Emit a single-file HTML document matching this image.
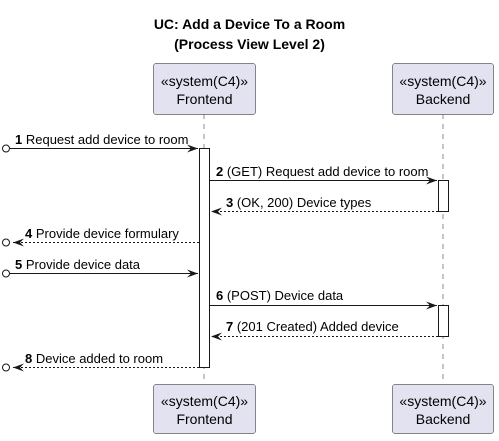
<!DOCTYPE html>
<html><head><meta charset="utf-8"><style>
html,body{margin:0;padding:0;background:#fff;}
svg{display:block;}
text{font-family:"Liberation Sans",sans-serif;}
</style></head><body>
<svg width="499" height="441" viewBox="0 0 499 441" xmlns="http://www.w3.org/2000/svg">
<defs>
<marker id="ah" markerWidth="12" markerHeight="10" refX="11" refY="4" orient="auto" markerUnits="userSpaceOnUse">
<polygon points="0,0 11,4 0,8 4,4" fill="#181818"/>
</marker>
</defs>
<text x="249.5" y="29" text-anchor="middle" font-size="14" font-weight="bold">UC: Add a Device To a Room</text>
<text x="249.5" y="49" text-anchor="middle" font-size="14" font-weight="bold">(Process View Level 2)</text>
<line x1="204" y1="114" x2="204" y2="384" stroke="#181818" stroke-width="0.5" stroke-dasharray="5,5"/>
<line x1="443" y1="114" x2="443" y2="384" stroke="#181818" stroke-width="0.5" stroke-dasharray="5,5"/>
<g fill="#E2E2F0" stroke="#181818" stroke-width="0.5">
<rect x="153.5" y="63.5" width="102" height="51" rx="2.5"/>
<rect x="392.5" y="63.5" width="101" height="51" rx="2.5"/>
<rect x="153.5" y="384.5" width="102" height="49" rx="2.5"/>
<rect x="392.5" y="384.5" width="101" height="49" rx="2.5"/>
</g>
<g font-size="14" fill="#000" text-anchor="middle">
<text x="204.5" y="86">«system(C4)»</text><text x="204.5" y="104">Frontend</text>
<text x="443" y="86">«system(C4)»</text><text x="443" y="104">Backend</text>
<text x="204.5" y="406">«system(C4)»</text><text x="204.5" y="424">Frontend</text>
<text x="443" y="406">«system(C4)»</text><text x="443" y="424">Backend</text>
</g>
<g fill="#fff" stroke="#181818" stroke-width="1">
<rect x="199.5" y="148.5" width="10" height="219"/>
<rect x="438.5" y="180.5" width="10" height="31"/>
<rect x="438.5" y="305.5" width="10" height="31"/>
</g>
<g stroke="#181818" stroke-width="1" fill="none">
<line x1="10" y1="148.5" x2="198" y2="148.5" marker-end="url(#ah)"/>
<circle cx="6" cy="148.5" r="3.5"/>
<line x1="210" y1="180.5" x2="437" y2="180.5" marker-end="url(#ah)"/>
<line x1="438" y1="211.5" x2="211" y2="211.5" stroke-dasharray="2,2" marker-end="url(#ah)"/>
<line x1="199" y1="242.5" x2="13" y2="242.5" stroke-dasharray="2,2" marker-end="url(#ah)"/>
<circle cx="6" cy="242.5" r="3.5"/>
<line x1="10" y1="273.5" x2="198" y2="273.5" marker-end="url(#ah)"/>
<circle cx="6" cy="273.5" r="3.5"/>
<line x1="210" y1="305.5" x2="437" y2="305.5" marker-end="url(#ah)"/>
<line x1="438" y1="336.5" x2="211" y2="336.5" stroke-dasharray="2,2" marker-end="url(#ah)"/>
<line x1="199" y1="367.5" x2="13" y2="367.5" stroke-dasharray="2,2" marker-end="url(#ah)"/>
<circle cx="6" cy="367.5" r="3.5"/>
</g>
<g font-size="13" fill="#000">
<text x="15" y="144"><tspan font-weight="bold">1</tspan> Request add device to room</text>
<text x="216" y="176"><tspan font-weight="bold">2</tspan> (GET) Request add device to room</text>
<text x="226" y="207"><tspan font-weight="bold">3</tspan> (OK, 200) Device types</text>
<text x="25" y="238"><tspan font-weight="bold">4</tspan> Provide device formulary</text>
<text x="15" y="269"><tspan font-weight="bold">5</tspan> Provide device data</text>
<text x="216" y="300"><tspan font-weight="bold">6</tspan> (POST) Device data</text>
<text x="226" y="331"><tspan font-weight="bold">7</tspan> (201 Created) Added device</text>
<text x="25" y="363"><tspan font-weight="bold">8</tspan> Device added to room</text>
</g>
</svg>
</body></html>
